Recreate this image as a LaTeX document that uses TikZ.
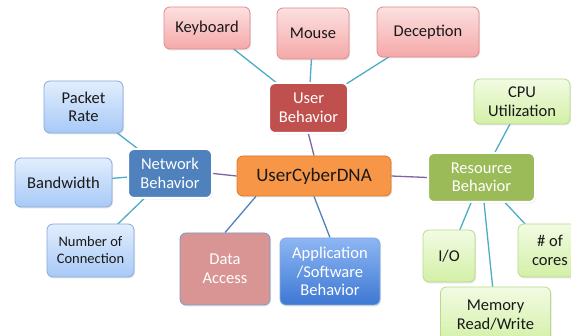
\documentclass[tikz,border=0pt]{standalone}
\usepackage{fontspec}
\setmainfont{Carlito}
\usetikzlibrary{shadows,backgrounds,calc}
\definecolor{pinkTop}{HTML}{FCE0E0}
\definecolor{pinkBot}{HTML}{F5A8A8}
\definecolor{pinkLine}{HTML}{E08A8A}
\definecolor{blueTop}{HTML}{E2EEFD}
\definecolor{blueBot}{HTML}{A7C9F7}
\definecolor{blueLine}{HTML}{86A9DC}
\definecolor{greenTop}{HTML}{F2FBE3}
\definecolor{greenBot}{HTML}{D3F0A6}
\definecolor{greenLine}{HTML}{B9D98F}
\definecolor{userC}{HTML}{C0504D}
\definecolor{netC}{HTML}{4F81BD}
\definecolor{resC}{HTML}{9BBB59}
\definecolor{ucdC}{HTML}{F79646}
\definecolor{ucdLine}{HTML}{D9782F}
\definecolor{dataC}{HTML}{D99594}
\definecolor{appTop}{HTML}{8DB6F2}
\definecolor{appBot}{HTML}{3D78D4}
\definecolor{cyanL}{HTML}{4BACC6}
\definecolor{purpL}{HTML}{8064A2}
\definecolor{blueL}{HTML}{4F81BD}
\tikzset{
  base/.style={rounded corners=6pt, align=center, font=\fontsize{16.5}{18.5}\selectfont, inner sep=0pt,
    drop shadow={opacity=0.2, shadow xshift=1pt, shadow yshift=-1.5pt}},
  pinkbox/.style={base, draw=pinkLine, line width=0.8pt, top color=pinkTop, bottom color=pinkBot, text=black!90},
  bluebox/.style={base, draw=blueLine, line width=0.8pt, top color=blueTop, bottom color=blueBot, text=black!90},
  greenbox/.style={base, draw=greenLine, line width=0.8pt, top color=greenTop, bottom color=greenBot, text=black!90},
  midbox/.style={base, draw=white, line width=2pt, text=white},
  leafline/.style={draw=cyanL, line width=1.3pt},
  mainline/.style={draw=purpL, line width=1.3pt},
  blueline/.style={draw=blueL, line width=1.3pt},
}
\begin{document}
\begin{tikzpicture}[x=1pt,y=-1pt]
\useasboundingbox (0,0) rectangle (571,336);
\clip (0,0) rectangle (571,336);
% nodes
\node[pinkbox, minimum width=86pt, minimum height=42pt] (kb) at (207,28) {Keyboard};
\node[pinkbox, minimum width=72pt, minimum height=51pt] (mouse) at (313,33.5) {Mouse};
\node[pinkbox, minimum width=102pt, minimum height=50pt] (dec) at (428,32) {Deception};
\node[midbox, fill=userC, minimum width=79pt, minimum height=50pt] (user) at (308.5,108) {User\\Behavior};
\node[greenbox, minimum width=96pt, minimum height=45pt] (cpu) at (522,101.5) {CPU\\Utilization};
\node[midbox, fill=resC, minimum width=107pt, minimum height=49pt] (res) at (481.5,177.5) {Resource\\Behavior};
\node[bluebox, minimum width=79pt, minimum height=52pt] (pkt) at (83.5,107) {Packet\\Rate};
\node[midbox, fill=netC, minimum width=84pt, minimum height=49pt] (net) at (170,173.5) {Network\\Behavior};
\node[base, draw=ucdLine, line width=0.8pt, fill=ucdC, minimum width=154pt, minimum height=40pt,
      font=\fontsize{19}{21}\selectfont, text=black!90] (ucd) at (314,176) {UserCyberDNA};
\node[bluebox, minimum width=97pt, minimum height=49pt] (bw) at (63.5,182.5) {Bandwidth};
\node[bluebox, minimum width=87pt, minimum height=53pt, font=\fontsize{14.5}{17}\selectfont] (num) at (90.5,250.5) {Number of\\Connection};
\node[base, draw=blueLine!90!black, line width=0.8pt, fill=dataC, minimum width=90pt, minimum height=72pt, text=white] (data) at (225,269) {Data\\Access};
\node[base, draw=blueLine, line width=0.8pt, top color=appTop, bottom color=appBot, minimum width=100pt, minimum height=67pt, text=white] (app) at (330,271.5) {Application\\/Software\\Behavior};
\node[greenbox, minimum width=52pt, minimum height=52pt] (io) at (449,256) {I/O};
\node[greenbox, minimum width=64pt, minimum height=53pt] (cores) at (550,250.5) {\# of\\cores};
\node[greenbox, minimum width=110pt, minimum height=56pt] (mem) at (495.5,315) {Memory\\Read/Write};
% connectors
\begin{scope}[on background layer]
\draw[leafline] (kb.center) -- (user.center);
\draw[leafline] (mouse.center) -- (user.center);
\draw[leafline] (dec.center) -- (user.center);
\draw[leafline] (cpu.center) -- (res.center);
\draw[leafline] (pkt.center) -- (net.center);
\draw[leafline] (bw.center) -- (net.center);
\draw[leafline] (num.center) -- (net.center);
\draw[leafline] (res.center) -- (io.center);
\draw[leafline] (res.center) -- (mem.center);
\draw[leafline] (res.center) -- (cores.center);
\draw[mainline] (user.south) -- (ucd.north);
\draw[mainline] (net.east) -- (ucd.west);
\draw[mainline] (ucd.east) -- (res.west);
\draw[blueline] ($(ucd.south)!0.75!(ucd.south west)$) -- (data.north);
\draw[blueline] (ucd.south) -- (app.north);
\end{scope}
\end{tikzpicture}
\end{document}
